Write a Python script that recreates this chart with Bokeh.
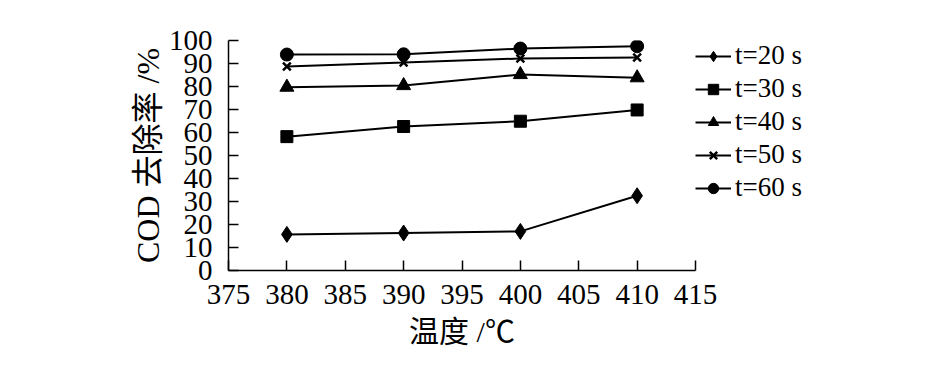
from bokeh.plotting import figure
from bokeh.models import Legend, LegendItem
from bokeh.embed import file_html
from bokeh.resources import INLINE

temps = [380, 390, 400, 410]
t20 = [15.7, 16.3, 17.0, 32.5]
t30 = [58.2, 62.6, 64.9, 69.8]
t40 = [79.7, 80.4, 85.2, 83.8]
t50 = [88.7, 90.4, 92.2, 92.6]
t60 = [93.9, 94.0, 96.5, 97.5]
labels = ["t=20 s", "t=30 s", "t=40 s", "t=50 s", "t=60 s"]
x_ticks = [375, 380, 385, 390, 395, 400, 405, 410, 415]
y_ticks = [0, 10, 20, 30, 40, 50, 60, 70, 80, 90, 100]

SERIF = "Liberation Serif, Noto Sans CJK SC"

p = figure(frame_width=467, frame_height=230, x_range=(375, 415), y_range=(0, 100),
           output_backend="svg", toolbar_location=None,
           min_border_left=228, min_border_right=0, min_border_top=40,
           min_border_bottom=92)
p.outline_line_color = None
p.xgrid.visible = False
p.ygrid.visible = False

for ax in (p.xaxis, p.yaxis):
    ax.major_tick_in = 10
    ax.major_tick_out = 0
    ax.minor_tick_in = 0
    ax.minor_tick_out = 0
    ax.axis_line_width = 1.5
    ax.major_tick_line_width = 1.5
    ax.major_label_text_font = "Liberation Serif"
    ax.major_label_text_font_size = "29px"
    ax.major_label_text_color = "black"
    ax.axis_label_text_font = SERIF
    ax.axis_label_text_font_style = "normal"
    ax.axis_label_text_color = "black"
    ax.axis_line_color = "black"
    ax.major_tick_line_color = "black"

p.xaxis.ticker = x_ticks
p.yaxis.ticker = y_ticks
p.xaxis.major_label_standoff = 14
p.yaxis.major_label_standoff = 16
p.xaxis.axis_label = "温度 /℃"
p.yaxis.axis_label = "COD 去除率 /%"
p.xaxis.axis_label_text_font_size = "30px"
p.yaxis.axis_label_text_font_size = "32px"
p.xaxis.axis_label_standoff = 8
p.yaxis.axis_label_standoff = 0

series = [t20, t30, t40, t50, t60]
markers = ["diamond", "square", "triangle", "x", "circle"]
sizes = [16, 12, 14, 11, 13]
items = []
for lab, ys, m, s in zip(labels, series, markers, sizes):
    r1 = p.line(temps, ys, line_color="black", line_width=2)
    r2 = p.scatter(temps, ys, marker=m, size=s, fill_color="black",
                   line_color="black", line_width=2.5 if m == "x" else 1)
    items.append(LegendItem(label=lab, renderers=[r1, r2]))

legend = Legend(items=items, location="top_left", orientation="vertical")
legend.border_line_color = None
legend.background_fill_alpha = 0
legend.padding = 0
legend.margin = 0
legend.spacing = 2
legend.glyph_height = 26
legend.glyph_width = 36
legend.label_height = 26
legend.label_standoff = 4
legend.label_text_font = "Liberation Serif"
legend.label_text_font_size = "27px"
legend.label_text_color = "black"
p.add_layout(legend, "right")

open("out.html", "w").write(file_html(p, INLINE))
